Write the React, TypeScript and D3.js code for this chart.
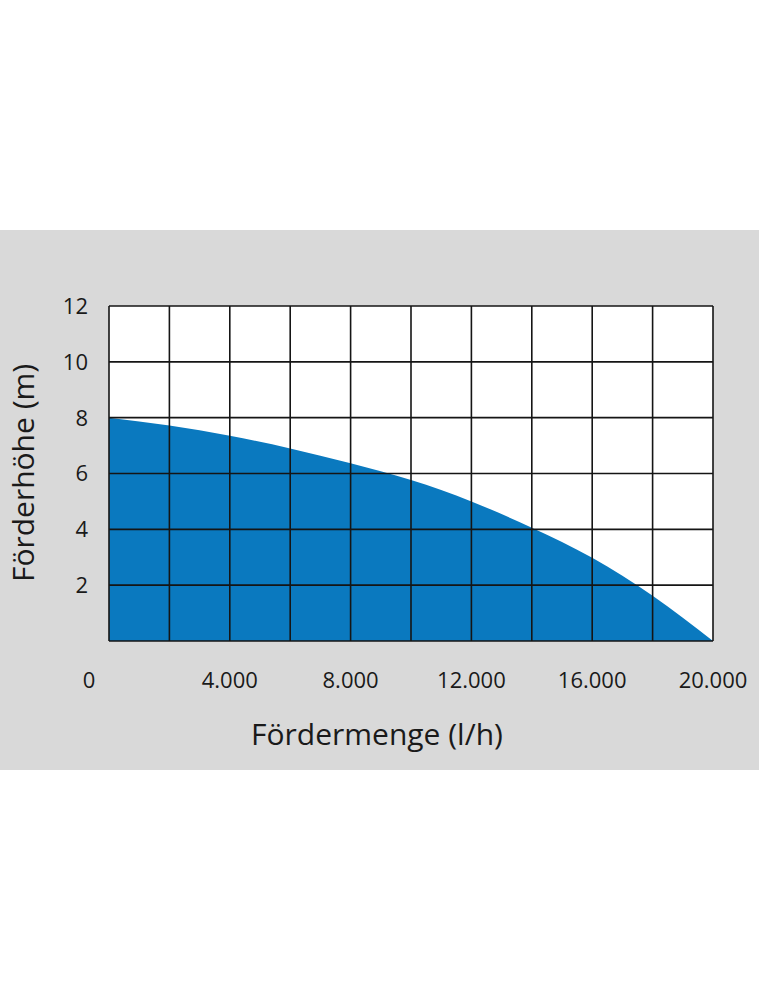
import React from "react";
import * as d3 from "d3";

// Pump performance curve: flow rate (l/h) vs. delivery head (m)
const flowRates = [0, 2000, 4000, 6000, 8000, 10000, 12000, 14000, 16000, 18000, 20000];
const heads = [8.0, 7.72, 7.35, 6.9, 6.37, 5.77, 5.0, 4.06, 2.98, 1.62, 0];

const xTicks = [0, 4000, 8000, 12000, 16000, 20000];
const xTickLabels = ["0", "4.000", "8.000", "12.000", "16.000", "20.000"];
const xGrid = [0, 2000, 4000, 6000, 8000, 10000, 12000, 14000, 16000, 18000, 20000];
const yTicks = [2, 4, 6, 8, 10, 12];
const yGrid = [0, 2, 4, 6, 8, 10, 12];

const xTitle = "Fördermenge (l/h)";
const yTitle = "Förderhöhe (m)";

const W = 759;
const H = 999;
const FONT = "'Open Sans', 'Noto Sans', sans-serif";

export default function App() {
  const x = d3.scaleLinear().domain([0, 20000]).range([109, 713]);
  const y = d3.scaleLinear().domain([0, 12]).range([641, 306]);

  const pts: [number, number][] = flowRates.map((f, i) => [f, heads[i]]);
  const area = d3
    .area<[number, number]>()
    .x((d) => x(d[0]))
    .y0(y(0))
    .y1((d) => y(d[1]))
    .curve(d3.curveNatural);

  return (
    <svg
      width={W}
      height={H}
      style={{ position: "absolute", left: 0, top: 0, background: "#ffffff" }}
    >
      <rect x={0} y={230} width={W} height={540} fill="#d9d9d9" />
      <rect
        x={x(0)}
        y={y(12)}
        width={x(20000) - x(0)}
        height={y(0) - y(12)}
        fill="#ffffff"
      />
      <path d={area(pts) || ""} fill="#0a79bf" />
      <g stroke="#151515" strokeWidth={1.6}>
        {xGrid.map((v) => (
          <line key={"vx" + v} x1={x(v)} x2={x(v)} y1={y(0)} y2={y(12)} />
        ))}
        {yGrid.map((v) => (
          <line key={"hy" + v} x1={x(0)} x2={x(20000)} y1={y(v)} y2={y(v)} />
        ))}
      </g>
      <g fontFamily={FONT} fontSize={22} fill="#1a1a1a">
        {yTicks.map((v) => (
          <text key={"yt" + v} x={88} y={y(v)} dy="0.36em" textAnchor="end">
            {v}
          </text>
        ))}
        {xTicks.map((v, i) => (
          <text
            key={"xt" + v}
            x={v === 0 ? 89 : x(v)}
            y={688}
            textAnchor="middle"
          >
            {xTickLabels[i]}
          </text>
        ))}
      </g>
      <text
        x={377}
        y={745}
        textAnchor="middle"
        fontFamily={FONT}
        fontSize={30}
        fill="#1a1a1a"
      >
        {xTitle}
      </text>
      <text
        transform={`translate(34, 473) rotate(-90)`}
        textAnchor="middle"
        fontFamily={FONT}
        fontSize={30}
        fill="#1a1a1a"
      >
        {yTitle}
      </text>
    </svg>
  );
}
